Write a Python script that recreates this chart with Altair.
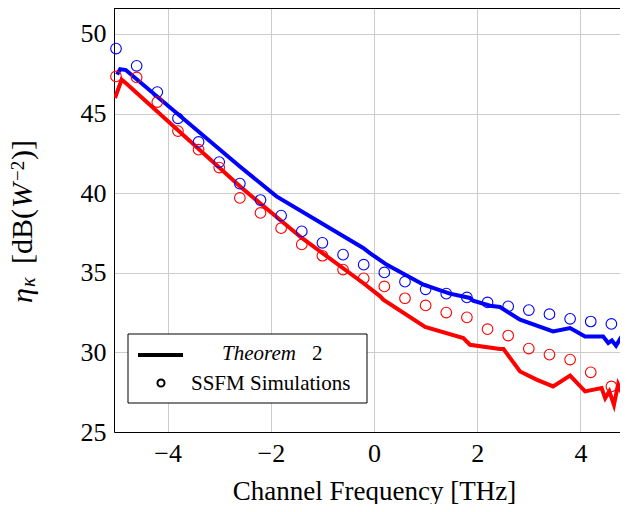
import altair as alt
import pandas as pd

# ---------------- data ----------------
sim_freq_blue = [-5.0, -4.6, -4.2, -3.8, -3.4, -3.0, -2.6, -2.2, -1.8, -1.4, -1.0, -0.6, -0.2,
                 0.2, 0.6, 1.0, 1.4, 1.8, 2.2, 2.6, 3.0, 3.4, 3.8, 4.2, 4.6]
sim_blue = [49.08, 48.00, 46.35, 44.70, 43.22, 41.95, 40.60, 39.57, 38.59, 37.60, 36.88, 36.14, 35.51,
            35.02, 34.44, 33.96, 33.69, 33.45, 33.14, 32.89, 32.66, 32.40, 32.11, 31.94, 31.79]

sim_freq_red = [-5.0, -4.6, -4.2, -3.8, -3.4, -3.0, -2.6, -2.2, -1.8, -1.4, -1.0, -0.6, -0.2,
                0.2, 0.6, 1.0, 1.4, 1.8, 2.2, 2.6, 3.0, 3.4, 3.8, 4.2, 4.6, 5.0]
sim_red = [47.33, 47.27, 45.72, 43.90, 42.73, 41.61, 39.70, 38.76, 37.80, 36.78, 36.07, 35.20, 34.65,
           34.14, 33.40, 32.95, 32.50, 32.20, 31.46, 31.06, 30.24, 29.86, 29.55, 28.75, 27.86, 26.35]

theory_freq_blue = [-4.98, -4.92, -4.81, -2.60, -1.89, -0.21, -0.08, 0.25, 0.96, 1.47, 1.86, 1.92,
                    2.25, 2.44, 2.83, 3.47, 3.80, 4.09, 4.44, 4.54, 4.61, 4.69, 4.77, 4.92]
theory_blue = [47.45, 47.79, 47.73, 41.68, 39.80, 36.56, 36.24, 35.50, 34.25, 33.69, 33.42, 33.25,
               32.93, 32.85, 32.06, 31.32, 31.53, 31.00, 31.00, 30.59, 30.75, 30.42, 30.86, 30.34]

theory_freq_red = [-5.02, -4.89, -4.79, -2.60, -1.40, -0.21, 0.12, 0.18, 0.99, 1.73, 1.86, 2.44, 2.51,
                   2.83, 3.15, 3.47, 3.80, 4.09, 4.41, 4.48, 4.56, 4.65, 4.73, 4.83, 4.92]
theory_red = [45.98, 47.13, 46.85, 40.43, 37.19, 34.36, 33.52, 33.31, 31.60, 30.90, 30.48, 30.21, 30.21,
              28.80, 28.29, 27.86, 28.54, 27.55, 27.76, 27.13, 27.55, 26.70, 27.99, 27.24, 26.93]

series_names = ["blue", "red"]
series_colors = ["#0000ff", "#ff0000"]

x_ticks = [-4, -2, 0, 2, 4]
y_ticks = [25, 30, 35, 40, 45, 50]

FONT = "Liberation Serif"
W, H = 506, 424

lines_df = pd.concat([
    pd.DataFrame({"freq": theory_freq_blue, "eta": theory_blue, "series": "blue", "order": range(len(theory_blue))}),
    pd.DataFrame({"freq": theory_freq_red, "eta": theory_red, "series": "red", "order": range(len(theory_red))}),
])
sims_df = pd.concat([
    pd.DataFrame({"freq": sim_freq_blue, "eta": sim_blue, "series": "blue"}),
    pd.DataFrame({"freq": sim_freq_red, "eta": sim_red, "series": "red"}),
])

xs = alt.Scale(domain=[-5.039, 4.767], nice=False, zero=False)
ys = alt.Scale(domain=[25, 51.63], nice=False, zero=False)
color = alt.Color("series:N", scale=alt.Scale(domain=series_names, range=series_colors), legend=None)

x_enc = alt.X("freq:Q", scale=xs, axis=alt.Axis(
    values=x_ticks, title="Channel Frequency [THz]", ticks=False,
    labelFont=FONT, labelFontSize=26, labelColor="black", labelBaseline="alphabetic", labelPadding=29,
    titleFont=FONT, titleFontSize=27, titleFontWeight="normal", titleColor="black",
    titleBaseline="alphabetic", titleY=67, titleX=260,
    domainColor="black", domainWidth=1, gridColor="#cccccc", gridWidth=1))
y_enc = alt.Y("eta:Q", scale=ys, axis=alt.Axis(
    values=y_ticks, title=None, ticks=False,
    labelFont=FONT, labelFontSize=26, labelColor="black", labelPadding=8,
    domainColor="black", domainWidth=1, gridColor="#cccccc", gridWidth=1))

lines = alt.Chart(lines_df).mark_line(strokeWidth=4, clip=True).encode(
    x=x_enc, y=y_enc, color=color, order="order:Q", detail="series:N")
points = alt.Chart(sims_df).mark_point(shape="circle", filled=False, size=113, strokeWidth=1.1,
                                       opacity=1, clip=False).encode(
    x=alt.X("freq:Q", scale=xs), y=alt.Y("eta:Q", scale=ys), color=color)

dummy = pd.DataFrame({"a": [0]})
base = alt.Chart(dummy)

top_border = base.mark_rule(color="black", strokeWidth=1).encode(
    x=alt.value(0), x2=alt.value(W), y=alt.value(0.5))

# legend
leg_box = base.mark_rect(fill="white", stroke="black", strokeWidth=1).encode(
    x=alt.value(14), x2=alt.value(253), y=alt.value(326), y2=alt.value(395))
leg_line = base.mark_rule(color="black", strokeWidth=4).encode(
    x=alt.value(24), x2=alt.value(69), y=alt.value(347))
leg_circ = base.mark_point(shape="circle", filled=False, color="black", strokeWidth=2, size=50,
                           opacity=1).encode(x=alt.value(47), y=alt.value(375))


def txt(s, x, y, size=21, style="normal", angle=0):
    return base.mark_text(text=s, align="left", baseline="alphabetic", font=FONT, fontSize=size,
                          fontStyle=style, color="black", angle=angle).encode(
        x=alt.value(x), y=alt.value(y))


leg_t1 = txt("Theorem", 108, 352, style="italic")
leg_t2 = txt("2", 198, 352)
leg_t3 = txt("SSFM Simulations", 77, 381.5)

# y-axis title built from pieces (rotated)
yt = [
    txt("η", -82, 295, size=30, style="italic", angle=270),
    txt("κ", -79, 279, size=20, style="italic", angle=270),
    txt("[dB(", -82, 256, size=30, angle=270),
    txt("W", -82, 200, size=30, style="italic", angle=270),
    txt("−2", -90, 173, size=19, angle=270),
    txt(")]", -82, 152, size=30, angle=270),
]

chart = alt.layer(lines, points, top_border, leg_box, leg_line, leg_circ, leg_t1, leg_t2, leg_t3, *yt).properties(
    width=W, height=H,
    autosize=alt.AutoSizeParams(type="none"),
    padding={"left": 106, "top": 0, "right": 0, "bottom": 72},
).configure_view(stroke=None).configure(background="white")

chart.save("out.html", embed_options={"renderer": "svg", "actions": False})
